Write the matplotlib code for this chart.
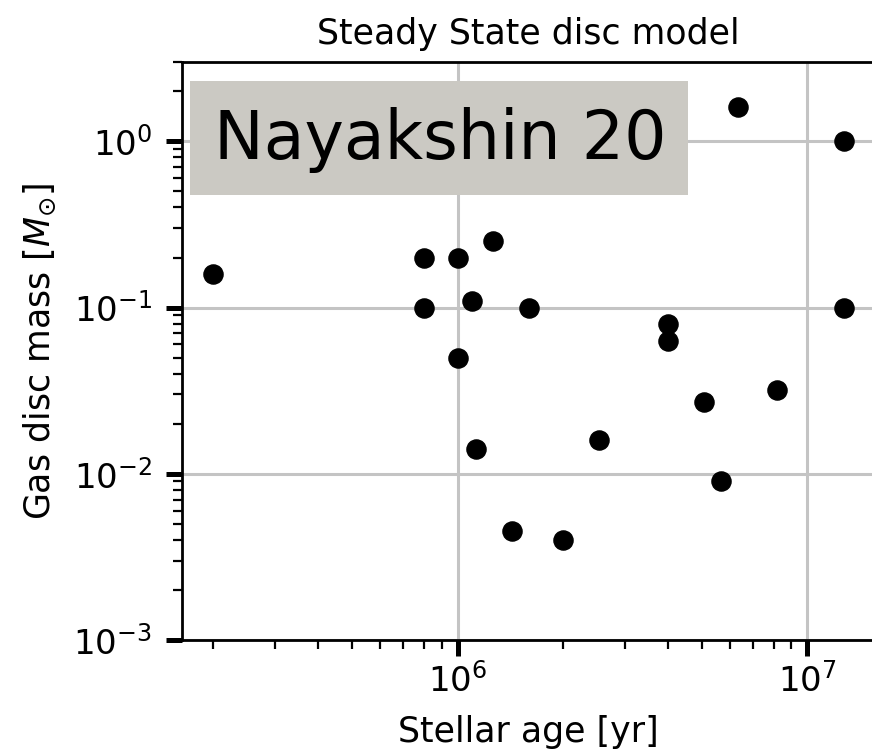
import matplotlib
matplotlib.use("Agg")
import matplotlib.pyplot as plt
from matplotlib.patches import Rectangle

# stellar ages [yr] and gas disc masses [Msun]
age = [2.0e5, 8.0e5, 8.0e5, 1.0e6, 1.26e6, 1.1e6, 1.6e6, 1.0e6, 1.13e6,
       1.43e6, 2.0e6, 2.53e6, 4.0e6, 4.0e6, 5.05e6, 5.67e6, 8.2e6,
       6.35e6, 1.27e7, 1.27e7]
mass = [0.16, 0.2, 0.1, 0.2, 0.25, 0.11, 0.1, 0.05, 0.014,
        0.0045, 0.004, 0.016, 0.08, 0.063, 0.027, 0.009, 0.032,
        1.6, 1.0, 0.1]

xlim = (1.63e5, 1.55e7)
ylim = (1e-3, 3.0)

W, H = 872, 750
fig = plt.figure(figsize=(W / 100, H / 100), dpi=100)
ax = fig.add_axes([182 / W, 110 / H, 692 / W, 578 / H])

ax.scatter(age, mass, s=190, c='black', zorder=3)
ax.set_xscale('log')
ax.set_yscale('log')
ax.set_xlim(*xlim)
ax.set_ylim(*ylim)

ax.grid(True, which='major', color='#c4c4c4', lw=2.2)
ax.set_axisbelow(True)
for sp in ax.spines.values():
    sp.set_linewidth(2.0)

ax.tick_params(which='major', length=11.5, width=3.6, labelsize=24.5)
ax.tick_params(axis='y', which='major', pad=10)
ax.tick_params(axis='x', which='major', pad=5)
ax.tick_params(which='minor', length=6.5, width=1.6)

ax.set_title('Steady State disc model', fontsize=25, pad=13)
ax.set_xlabel('Stellar age [yr]', fontsize=25, labelpad=12)
ax.set_ylabel(r'Gas disc mass [$M_{\odot}$]', fontsize=25, labelpad=11)

# label box in the upper left corner
fig.add_artist(Rectangle((190 / W, 1 - 195 / H), 498 / W, 114 / H,
                         transform=fig.transFigure, facecolor='#cbc9c3',
                         edgecolor='none', zorder=5))
fig.text(440 / W, 1 - 140 / H, 'Nayakshin 20', fontsize=48,
         ha='center', va='center', zorder=6)

fig.savefig('out.png', dpi=100)
